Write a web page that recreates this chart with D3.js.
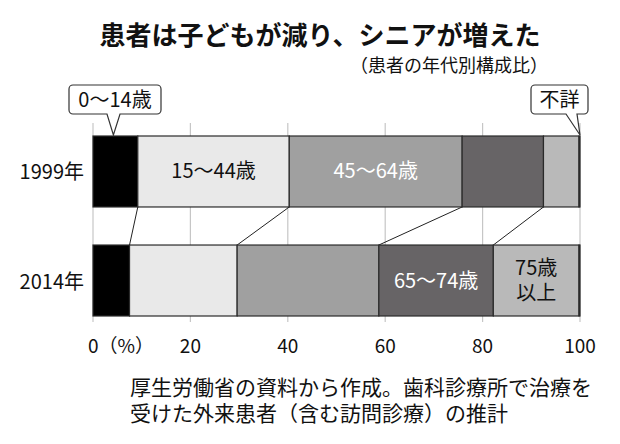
<!DOCTYPE html>
<html><head><meta charset="utf-8">
<script src="https://cdn.jsdelivr.net/npm/d3@7"></script>
<style>
body{margin:0;background:#fff;}
svg{display:block;font-family:"Noto Sans CJK JP","Noto Sans",sans-serif;}
</style></head>
<body><svg id="c" width="620" height="444"></svg>
<script>
const years = ["1999年", "2014年"];
const groups = ["0〜14歳", "15〜44歳", "45〜64歳", "65〜74歳", "75歳以上", "不詳"];
const v1999 = [9.2, 31.1, 35.5, 16.7, 7.3, 0.2];
const v2014 = [7.5, 22.1, 29.1, 23.5, 17.6, 0.2];
const tickValues = [0, 20, 40, 60, 80, 100];
const colors = ["#000000", "#e9e9e9", "#a0a0a0", "#676466", "#b9b9b9", "#000000"];

const svg = d3.select("#c");
const x = d3.scaleLinear().domain([0, 100]).range([93, 580]);
const y = d3.scaleBand().domain(years).range([136, 316]).paddingInner(0.349);

const rows = [v1999, v2014].map((vals, i) => {
  let acc = 0;
  return { year: years[i], segs: vals.map((v, j) => { const s = { g: groups[j], x0: acc, x1: acc + v, i: j }; acc += v; return s; }) };
});

// gridlines
svg.append("g").selectAll("line").data(tickValues).join("line")
  .attr("x1", d => x(d)).attr("x2", d => x(d))
  .attr("y1", 123).attr("y2", 322)
  .attr("stroke", "#c6c6c6").attr("stroke-width", 1.2);

// connector lines between the bars
const b0 = y(years[0]) + y.bandwidth(), t1 = y(years[1]);
svg.append("g").selectAll("line").data(d3.range(1, 5)).join("line")
  .attr("x1", j => x(rows[0].segs[j].x0)).attr("y1", b0)
  .attr("x2", j => x(rows[1].segs[j].x0)).attr("y2", t1)
  .attr("stroke", "#222").attr("stroke-width", 1);

// bars
rows.forEach(r => {
  svg.append("g").selectAll("rect").data(r.segs).join("rect")
    .attr("x", d => x(d.x0)).attr("width", d => x(d.x1) - x(d.x0))
    .attr("y", y(r.year)).attr("height", y.bandwidth())
    .attr("fill", d => colors[d.i]).attr("stroke", "#2a2a2a").attr("stroke-width", 1.2);
});

// in-bar labels
const inLabels = [
  { row: 0, seg: 1, lines: ["15〜44歳"], fill: "#111" },
  { row: 0, seg: 2, lines: ["45〜64歳"], fill: "#fff" },
  { row: 1, seg: 3, lines: ["65〜74歳"], fill: "#fff" },
  { row: 1, seg: 4, lines: ["75歳", "以上"], fill: "#111" }
];
inLabels.forEach(l => {
  const s = rows[l.row].segs[l.seg];
  const cx = (x(s.x0) + x(s.x1)) / 2;
  const cy = y(years[l.row]) + y.bandwidth() / 2;
  const n = l.lines.length;
  l.lines.forEach((t, k) => {
    svg.append("text").attr("x", cx).attr("y", cy + (k - (n - 1) / 2) * 25 + 7)
      .attr("text-anchor", "middle").attr("font-size", 20).attr("fill", l.fill).text(t);
  });
});

// callouts
function callout(label, bx, bw, tipX, tipY, p0, p1) {
  const by = 85, bh = 29, r = 4;
  const g = svg.append("g");
  const path = d3.path();
  path.moveTo(bx + r, by);
  path.lineTo(bx + bw - r, by); path.arcTo(bx + bw, by, bx + bw, by + r, r);
  path.lineTo(bx + bw, by + bh - r); path.arcTo(bx + bw, by + bh, bx + bw - r, by + bh, r);
  path.lineTo(p1, by + bh); path.lineTo(tipX, tipY); path.lineTo(p0, by + bh);
  path.lineTo(bx + r, by + bh); path.arcTo(bx, by + bh, bx, by + bh - r, r);
  path.lineTo(bx, by + r); path.arcTo(bx, by, bx + r, by, r);
  path.closePath();
  g.append("path").attr("d", path.toString()).attr("fill", "#fff").attr("stroke", "#333").attr("stroke-width", 1.2);
  g.append("text").attr("x", bx + bw / 2).attr("y", by + bh / 2 + 7).attr("text-anchor", "middle")
    .attr("font-size", 20).attr("fill", "#111").text(label);
}
const s0 = rows[0].segs[0];
callout(groups[0], 69, 92, (x(s0.x0) + x(s0.x1)) / 2 - 2, y(years[0]) - 1, 107, 120);
callout(groups[5], 531, 57, x(100), y(years[0]) - 1, 566, 577);

// y labels
svg.append("g").selectAll("text").data(years).join("text")
  .attr("x", 84).attr("y", d => y(d) + y.bandwidth() / 2 + 8)
  .attr("text-anchor", "end").attr("font-size", 20).attr("fill", "#111").text(d => d);

// x tick labels
const xl = svg.append("g");
xl.selectAll("text").data(tickValues).join("text")
  .attr("x", d => x(d)).attr("y", 353)
  .attr("text-anchor", d => d === 0 ? "start" : "middle")
  .attr("dx", d => d === 0 ? -5 : 0)
  .attr("font-size", 19).attr("fill", "#111")
  .text(d => d === 0 ? "0（%）" : d);

// title
svg.append("text").attr("x", 320).attr("y", 45).attr("text-anchor", "middle")
  .attr("font-size", 26).attr("font-weight", "bold").attr("fill", "#111")
  .text("患者は子どもが減り、シニアが増えた");
svg.append("text").attr("x", 548).attr("y", 72).attr("text-anchor", "end")
  .attr("font-size", 18).attr("fill", "#111").text("（患者の年代別構成比）");

// note
const notes = ["厚生労働省の資料から作成。歯科診療所で治療を", "受けた外来患者（含む訪問診療）の推計"];
svg.append("g").selectAll("text").data(notes).join("text")
  .attr("x", 130).attr("y", (d, i) => 395 + i * 26)
  .attr("font-size", 21).attr("fill", "#111").text(d => d);
</script></body></html>
